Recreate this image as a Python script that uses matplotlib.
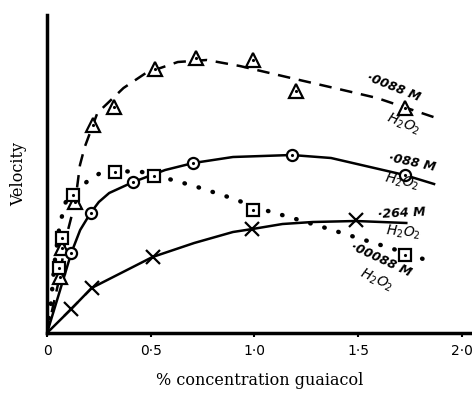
import numpy as np
import matplotlib
matplotlib.use('Agg')
from matplotlib import pyplot as plt

# ·0088 M H2O2 (triangles, dashed)
tri_x = [0.061, 0.070, 0.136, 0.220, 0.322, 0.519, 0.720, 0.995, 1.199, 1.728]
tri_y = [5.6, 8.5, 13.1, 20.8, 22.6, 26.4, 27.5, 27.3, 24.2, 22.5]
tri_lx = [0, 0.061, 0.089, 0.136, 0.159, 0.182, 0.243, 0.369, 0.477, 0.631, 0.771, 0.930, 1.053, 1.218, 1.427, 1.592, 1.878]
tri_ly = [0, 5.6, 9.3, 13.1, 16.8, 18.6, 22.0, 24.5, 26.0, 27.1, 27.3, 26.7, 26.1, 25.3, 24.3, 23.5, 21.5]

# ·088 M H2O2 (circles, solid)
cir_x = [0.117, 0.210, 0.416, 0.706, 1.180, 1.725]
cir_y = [8.0, 12.0, 15.1, 17.0, 17.8, 15.8]
cir_lx = [0, 0.056, 0.117, 0.160, 0.210, 0.250, 0.300, 0.416, 0.570, 0.706, 0.897, 1.180, 1.370, 1.725, 1.867]
cir_ly = [0, 3.8, 8.0, 10.3, 12.0, 13.1, 14.0, 15.1, 16.3, 17.0, 17.6, 17.8, 17.5, 15.8, 14.9]

# ·00088 M H2O2 (squares, dotted)
sq_x = [0.056, 0.070, 0.126, 0.327, 0.514, 0.995, 1.728]
sq_y = [6.5, 9.5, 13.8, 16.1, 15.7, 12.3, 7.8]
sq_lx = [0, 0.019, 0.037, 0.061, 0.093, 0.150, 0.196, 0.257, 0.336, 0.458, 0.570, 0.710, 0.860, 1.049, 1.184, 1.345, 1.500, 1.656, 1.872]
sq_ly = [0, 3.0, 7.1, 10.8, 13.3, 14.3, 15.2, 16.0, 16.2, 16.1, 15.5, 14.7, 13.7, 12.3, 11.5, 10.5, 9.5, 8.5, 7.0]

# ·264 M H2O2 (crosses, solid)
cr_x = [0.117, 0.215, 0.509, 0.991, 1.490]
cr_y = [2.4, 4.5, 7.6, 10.4, 11.3]
cr_lx = [0, 0.117, 0.215, 0.509, 0.710, 0.897, 0.991, 1.136, 1.282, 1.490, 1.733]
cr_ly = [0, 2.4, 4.5, 7.6, 9.0, 10.1, 10.4, 10.9, 11.1, 11.2, 11.0]

xticks = [0, 0.5, 1.0, 1.5, 2.0]
xticklabels = ['0', '0·5', '1·0', '1·5', '2·0']

fig = plt.figure(figsize=(4.72, 3.93), dpi=100)
ax = fig.add_axes([47/472, 60/393, 425/472, 318/393])

k = 'black'
ax.plot(tri_lx, tri_ly, color=k, lw=1.8, ls=(0, (5, 3.5)))
ax.plot(cir_lx, cir_ly, color=k, lw=1.8)
ax.plot(sq_lx, sq_ly, color=k, lw=3.2, ls=(0, (0.1, 3.2)), dash_capstyle='round')
ax.plot(cr_lx, cr_ly, color=k, lw=1.8)

ax.plot(tri_x, tri_y, '^', ms=10, mfc='white', mec=k, mew=1.6, ls='none')
ax.plot(cir_x, cir_y, 'o', ms=8, mfc='white', mec=k, mew=1.6, ls='none')
ax.plot(sq_x, sq_y, 's', ms=8, mfc='white', mec=k, mew=1.6, ls='none')
ax.plot(cr_x, cr_y, 'x', ms=10, mec=k, mew=1.6, ls='none')
for xs, ys in [(tri_x, tri_y), (cir_x, cir_y), (sq_x, sq_y)]:
    ax.plot(xs, ys, '.', ms=2.5, color=k, ls='none')

ax.set_xlim(0, 2.05)
ax.set_ylim(0, 31.8)
ax.set_xticks(xticks)
ax.set_xticklabels(xticklabels, fontsize=10, fontfamily='DejaVu Sans')
ax.set_yticks([])
ax.tick_params(axis='x', direction='out', length=3, width=1.5, pad=5)
for s in ['top', 'right']:
    ax.spines[s].set_visible(False)
for s in ['left', 'bottom']:
    ax.spines[s].set_linewidth(2.5)

ax.set_xlabel('% concentration guaiacol', fontfamily='DejaVu Serif', fontsize=11.5, labelpad=10)
ax.set_ylabel('Velocity', fontfamily='DejaVu Serif', fontsize=11.5, labelpad=14)

tk = dict(fontsize=9, style='italic', weight='bold', fontfamily='DejaVu Sans', ha='center', va='center')
hk = dict(fontsize=10, ha='center', va='center')
ax.text(1.67, 24.6, '·0088 M', rotation=-22, **tk)
ax.text(1.72, 20.9, r'$H_2O_2$', rotation=-22, **hk)
ax.text(1.76, 17.0, '·088 M', rotation=-12, **tk)
ax.text(1.71, 15.1, r'$H_2O_2$', rotation=-12, **hk)
ax.text(1.71, 12.0, '·264 M', rotation=3, **tk)
ax.text(1.72, 10.1, r'$H_2O_2$', rotation=-5, **hk)
ax.text(1.61, 7.3, '·00088 M', rotation=-25, **tk)
ax.text(1.59, 5.3, r'$H_2O_2$', rotation=-25, **hk)

fig.savefig('out.png', dpi=100)
